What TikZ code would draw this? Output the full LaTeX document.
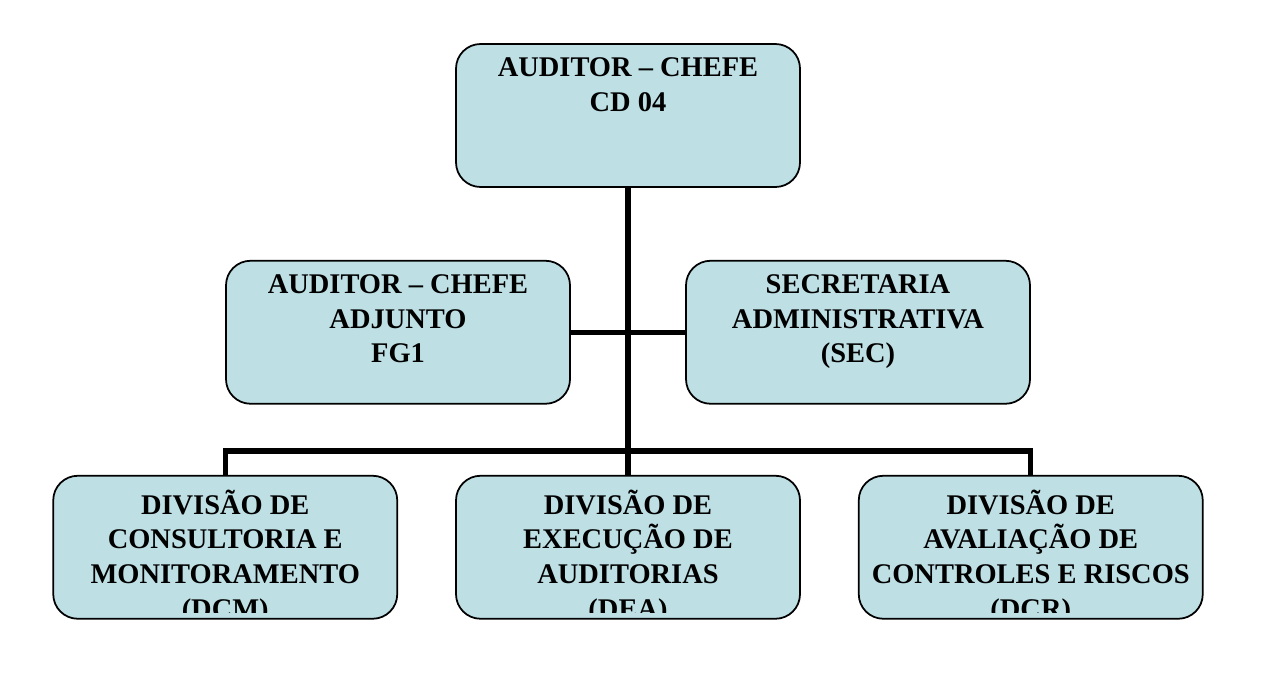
\documentclass[tikz,border=0pt]{standalone}
\usepackage{fontspec}
\setmainfont{Liberation Serif}
\usetikzlibrary{positioning, calc}
\definecolor{boxblue}{RGB}{190,224,229}
\tikzset{
  unit/.style={
    rectangle, rounded corners=14pt,
    minimum width=6.88cm, minimum height=2.86cm,
    draw=black, line width=1pt, fill=boxblue
  },
  unitlabel/.style={
    align=center, inner sep=0pt,
    font=\fontsize{16.2}{19.7}\selectfont\bfseries,
    execute at begin node={\rule{0pt}{16pt}}
  },
  link/.style={line width=3pt, color=black},
}
\begin{document}
\begin{tikzpicture}[node distance=1.14cm and 1.14cm]
  \useasboundingbox (0,0) rectangle (25.32,-13.48);

  % boxes
  \node[unit] (chefe) at (12.56,-2.31) {};
  \node[unit, below=1.44cm of chefe, xshift=-4.6cm] (adjunto) {};
  \node[unit, below=1.44cm of chefe, xshift=4.6cm] (sec) {};
  \node[unit, below=5.74cm of chefe] (dea) {};
  \node[unit, left=of dea] (dcm) {};
  \node[unit, right=of dea] (dcr) {};

  \coordinate (bus) at (12.56,-9.02);

  % connectors
  \draw[link] (chefe) -- (dea);
  \draw[link] (adjunto) -- (sec);
  \draw[link] (dcm.north) |- (bus) -| (dcr.north);

  % labels
  \node[unitlabel, below=0.29cm of chefe.north] (chefetext) {AUDITOR -- CHEFE\\CD 04};
  \node[unitlabel, below=0.29cm of adjunto.north] (adjuntotext) {AUDITOR -- CHEFE\\ADJUNTO\\FG1};
  \node[unitlabel, below=0.29cm of sec.north] (sectext) {SECRETARIA\\ADMINISTRATIVA\\(SEC)};
  \begin{scope}
    \clip ([yshift=0.15cm]dcm.south west) rectangle (dcr.north east);
    \node[unitlabel, below=0.29cm of dcm.north] (dcmtext) {DIVISÃO DE\\CONSULTORIA E\\MONITORAMENTO\\(DCM)};
    \node[unitlabel, below=0.29cm of dea.north] (deatext) {DIVISÃO DE\\EXECUÇÃO DE\\AUDITORIAS\\(DEA)};
    \node[unitlabel, below=0.29cm of dcr.north] (dcrtext) {DIVISÃO DE\\AVALIAÇÃO DE\\CONTROLES E RISCOS\\(DCR)};
  \end{scope}
\end{tikzpicture}
\end{document}
